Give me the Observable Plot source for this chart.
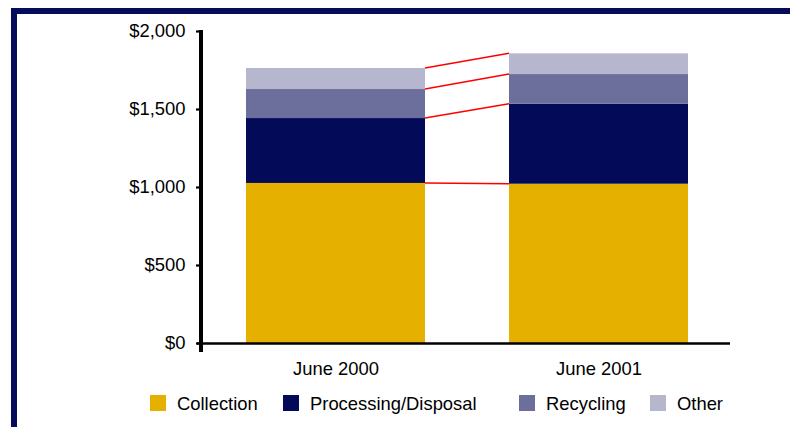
<!DOCTYPE html>
<html><head><meta charset="utf-8">
<script src="https://cdn.jsdelivr.net/npm/d3@7"></script>
<script src="https://cdn.jsdelivr.net/npm/@observablehq/plot@0.6"></script>
<style>
html,body{margin:0;padding:0;background:#fff;}
#wrap{position:relative;width:790px;height:427px;overflow:hidden;font-family:"Liberation Sans",Arial,sans-serif;color:#000;background:#fff;}
#border{position:absolute;left:11px;top:8px;right:-10px;bottom:-10px;border-top:6px solid #060c5c;border-left:6px solid #060c5c;}
#chart{position:absolute;left:0;top:0;}
.item{position:absolute;top:395px;height:18px;}
.sw{position:absolute;left:0;top:0;width:16px;height:16px;}
.lab{position:absolute;left:27px;top:0;line-height:18px;font-size:18.4px;white-space:nowrap;color:#000;}
</style></head><body>
<div id="wrap"><div id="border"></div><div id="chart"></div><div id="legend"></div></div>
<script>
const periods = ["June 2000", "June 2001"];
const categories = ["Collection", "Processing/Disposal", "Recycling", "Other"];
const collection = [1026, 1021];
const processing = [416, 513];
const recycling = [186, 190];
const other = [135, 133];
const yTicks = [0, 500, 1000, 1500, 2000];
const colors = ["#e5b000", "#030a58", "#6c6f9b", "#b6b7ce"];
const legendLeft = [150, 283, 519, 650];

const series = [collection, processing, recycling, other];
const table = [];
periods.forEach((p, i) => categories.forEach((c, k) => table.push({period: p, category: c, value: series[k][i]})));

function yAxisLine(index, scales) {
  const y = scales.y, x0 = scales.x.range()[0];
  return d3.create("svg:rect")
    .attr("x", x0 - 2).attr("width", 4)
    .attr("y", y(d3.max(yTicks)) - 1).attr("height", y(0) + 10 - y(d3.max(yTicks)))
    .attr("shape-rendering", "crispEdges")
    .attr("fill", "#000").node();
}

function connectors(index, scales) {
  const x = scales.x, y = scales.y, bw = x.bandwidth();
  const tops = periods.map((p, i) => Array.from(d3.cumsum(series.map(s => s[i]))));
  const g = d3.create("svg:g");
  categories.forEach((c, k) => {
    g.append("line")
      .attr("x1", x(periods[0]) + bw).attr("x2", x(periods[1]))
      .attr("y1", y(tops[0][k])).attr("y2", y(tops[1][k]))
      .attr("stroke", "#ff0000").attr("stroke-width", 1.4);
  });
  return g.node();
}

const chart = Plot.plot({
  width: 790, height: 385,
  marginTop: 31, marginBottom: 42, marginLeft: 201, marginRight: 60,
  style: {fontFamily: "'Liberation Sans', Arial, sans-serif", fontSize: "18.4px", color: "#000", background: "transparent"},
  x: {domain: periods, paddingInner: 0.318, paddingOuter: 0.161, align: 0.52},
  y: {domain: [0, d3.max(yTicks)]},
  color: {domain: categories, range: colors},
  marks: [
    Plot.barY(table, {x: "period", y: "value", fill: "category"}),
    Plot.ruleY([0], {strokeWidth: 2.6, stroke: "#000", insetLeft: -4}),
    connectors,
    Plot.axisY({ticks: yTicks, tickFormat: d => "$" + d3.format(",")(d), tickSize: 5, tickPadding: 11, strokeWidth: 2.2, stroke: "#000", label: null}),
    Plot.axisX({tickSize: 0, tickPadding: 18, label: null}),
    yAxisLine
  ]
});
document.getElementById("chart").appendChild(chart);

const legend = d3.select("#legend");
categories.forEach((c, k) => {
  const it = legend.append("div").attr("class", "item").style("left", legendLeft[k] + "px");
  it.append("div").attr("class", "sw").style("background", colors[k]);
  it.append("span").attr("class", "lab").text(c);
});
</script>
</body></html>
